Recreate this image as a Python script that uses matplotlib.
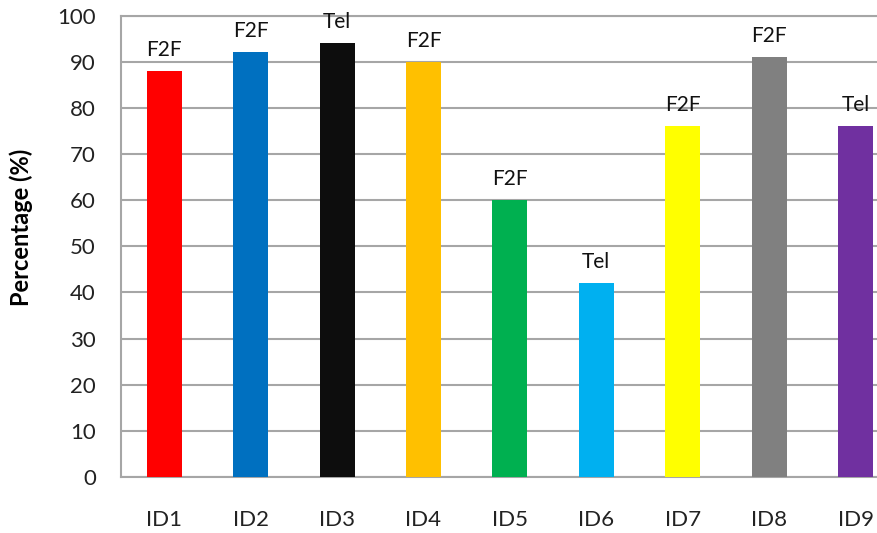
import matplotlib.pyplot as plt

ids = ["ID1", "ID2", "ID3", "ID4", "ID5", "ID6", "ID7", "ID8", "ID9"]
percent = [88, 92, 94, 90, 60, 42, 76, 91, 76]
mode = ["F2F", "F2F", "Tel", "F2F", "F2F", "Tel", "F2F", "F2F", "Tel"]
colors = ["#FF0000", "#0070C0", "#0D0D0D", "#FFC000", "#00B050",
          "#00B0F0", "#FFFF00", "#808080", "#7030A0"]

plt.rcParams['font.family'] = ['Lato', 'DejaVu Sans']

fig = plt.figure(figsize=(8.78, 5.33), dpi=100)
ax = fig.add_axes([121/878, 56/533, 1 - 121/878, (477-15.5)/533])

x = list(range(len(ids)))
ax.bar(x, percent, width=0.405, color=colors, zorder=3)

# mode labels above bars
for xi, v, m in zip(x, percent, mode):
    ax.annotate(m, (xi, v), xytext=(0, 8), textcoords="offset points",
                ha="center", va="bottom", fontsize=15, color="#111111")

ax.set_ylim(0, 100)
ax.set_xlim(-0.5, 8.26)
ax.set_yticks(range(0, 101, 10))
ax.set_xticks(x)
ax.set_xticklabels(ids)
ax.tick_params(axis="both", length=0, labelsize=16, colors="#222222")
ax.tick_params(axis="y", pad=18)
ax.tick_params(axis="x", pad=24)
ax.yaxis.grid(True, color="#A6A6A6", linewidth=1.5, zorder=0)

for s in ["left", "bottom", "top"]:
    ax.spines[s].set_color("#A6A6A6")
    ax.spines[s].set_linewidth(1.5)
ax.spines["right"].set_visible(False)

ax.set_ylabel("Percentage (%)", fontsize=17, fontweight="bold")
ax.yaxis.set_label_coords(-88/757, 0.54)

fig.savefig("out.png", dpi=100)
